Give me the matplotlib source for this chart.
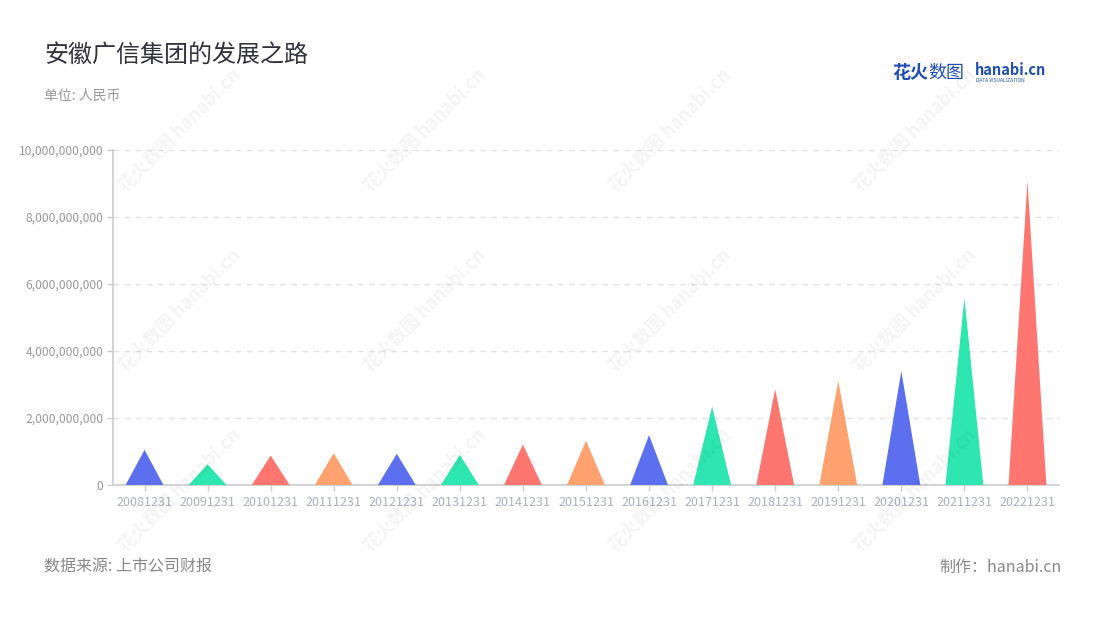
import matplotlib
matplotlib.use("Agg")
import matplotlib.pyplot as plt
from matplotlib.ticker import FuncFormatter, MultipleLocator

plt.rcParams['font.family'] = ['Noto Sans CJK SC', 'DejaVu Sans']

categories = ["20081231", "20091231", "20101231", "20111231", "20121231",
              "20131231", "20141231", "20151231", "20161231", "20171231",
              "20181231", "20191231", "20201231", "20211231", "20221231"]
values = [1.05e9, 0.62e9, 0.88e9, 0.95e9, 0.93e9,
          0.90e9, 1.21e9, 1.32e9, 1.49e9, 2.34e9,
          2.86e9, 3.11e9, 3.40e9, 5.58e9, 9.08e9]
palette = ["#5B6FEF", "#2EE6B0", "#FF7670", "#FFA26F"]

fig = plt.figure(figsize=(11, 6.2), dpi=100)
ax = fig.add_axes([113/1100, 1-485/620, 946/1100, 335/620])

half = 0.3
for i, v in enumerate(values):
    ax.fill([i - half, i, i + half], [0, v, 0], color=palette[i % 4], lw=0, zorder=3)

ax.set_xlim(-0.5, len(categories) - 0.5)
ax.set_ylim(0, 10e9)
ax.yaxis.set_major_locator(MultipleLocator(2e9))
ax.yaxis.set_major_formatter(FuncFormatter(lambda x, p: f"{int(round(x)):,}"))
ax.set_xticks(range(len(categories)))
ax.set_xticklabels(categories)

ax.grid(axis='y', color='#e3e3e3', linestyle=(0, (4, 4)), linewidth=1)
ax.set_axisbelow(True)
for s in ['top', 'right']:
    ax.spines[s].set_visible(False)
for s in ['left', 'bottom']:
    ax.spines[s].set_color('#cccccc')
    ax.spines[s].set_linewidth(1.2)
ax.tick_params(axis='y', colors='#cccccc', labelcolor='#999999', labelsize=8.7, length=4, width=1, pad=3)
ax.tick_params(axis='x', colors='#cccccc', labelcolor='#aab0be', labelsize=9, length=4, width=1, pad=4)

# Titles
fig.text(44/1100, 1-55/620, "安徽广信集团的发展之路", fontsize=17.3, color='#333340', va='center', ha='left')
fig.text(44/1100, 1-96/620, "单位: 人民币", fontsize=10, color='#999999', va='center', ha='left')
fig.text(44/1100, 1-567/620, "数据来源: 上市公司财报", fontsize=11.5, color='#888888', va='center', ha='left')
fig.text(1062/1100, 1-567/620, "制作：hanabi.cn", fontsize=11.5, color='#888888', va='center', ha='right')

# logo
fig.text(892/1100, 1-73/620, "花火", fontsize=13, color='#1f4fb4', fontweight='bold', va='center', ha='left')
fig.text(928/1100, 1-73/620, "数图", fontsize=13, color='#1f4fb4', va='center', ha='left')
fig.text(975/1100, 1-70/620, "hanabi.cn", fontsize=10.5, color='#1f4fb4', fontweight='bold', va='center', ha='left')
fig.text(976/1100, 1-80/620, "DATA VISUALIZATION", fontsize=3.5, color='#1f4fb4', va='center', ha='left')

# watermarks
for cx in [180, 425, 670, 915]:
    for cy in [130, 310, 490]:
        fig.text(cx/1100, 1-cy/620, "花火数图 hanabi.cn", fontsize=13, color='#000000', alpha=0.045,
                 rotation=45, va='center', ha='center', fontweight='bold', zorder=10)

fig.savefig("out.png", dpi=100)
